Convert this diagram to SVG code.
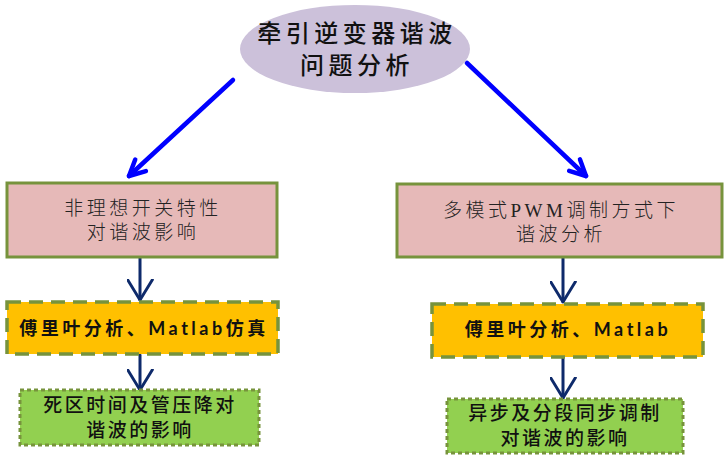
<svg xmlns="http://www.w3.org/2000/svg" width="728" height="461" viewBox="0 0 728 461">
<defs>
<style>
.title{font-family:"Noto Sans CJK SC",sans-serif;font-size:24px;font-weight:500;fill:#111;text-anchor:middle;letter-spacing:4.5px}
.pink{fill:#E6B9B8;stroke:#77933C;stroke-width:3}
.pinkt{font-family:"Liberation Serif","Noto Sans CJK SC",serif;font-size:19px;font-weight:300;fill:#222;text-anchor:middle;letter-spacing:3.5px}
.yel{fill:#FFC000;stroke:#77933C;stroke-width:3.5;stroke-dasharray:14 8}
.yelt{font-family:Lato,"Noto Sans CJK SC",sans-serif;font-size:18px;font-weight:700;fill:#111;text-anchor:middle;letter-spacing:3.5px}
.grn{fill:#92D050;stroke:#77933C;stroke-width:3;stroke-dasharray:4 3}
.grnt{font-family:"Noto Sans CJK SC",sans-serif;font-size:19px;font-weight:500;fill:#111;text-anchor:middle;letter-spacing:2.5px}
.blue{stroke:#0000FF;stroke-width:4.5;fill:none;stroke-linecap:round;stroke-linejoin:round}
.navy{stroke:#0E2A6B;stroke-width:3;fill:none;stroke-linecap:round;stroke-linejoin:round}
</style>
<marker id="ab" viewBox="0 0 20 20" refX="18" refY="10" markerWidth="5" markerHeight="5" markerUnits="strokeWidth" orient="auto">
<path d="M4,3 L18,10 L4,17" fill="none" stroke="#0000FF" stroke-width="4" stroke-linecap="round" stroke-linejoin="round"/>
</marker>
<marker id="an" viewBox="0 0 20 24" refX="19" refY="12" markerWidth="7.5" markerHeight="9" markerUnits="strokeWidth" orient="auto">
<path d="M1,1 L19,12 L1,23" fill="none" stroke="#0E2A6B" stroke-width="2.6" stroke-linecap="round" stroke-linejoin="round"/>
</marker>
</defs>
<g id="connectors">
<line class="blue" x1="233" y1="80" x2="129" y2="176" marker-end="url(#ab)"/>
<line class="blue" x1="467" y1="63" x2="586" y2="176" marker-end="url(#ab)"/>
<line class="navy" x1="140" y1="258" x2="140" y2="300" marker-end="url(#an)"/>
<line class="navy" x1="140" y1="355" x2="140" y2="390" marker-end="url(#an)"/>
<line class="navy" x1="563" y1="258" x2="563" y2="302" marker-end="url(#an)"/>
<line class="navy" x1="563" y1="358" x2="563" y2="398" marker-end="url(#an)"/>
</g>
<g id="root">
<ellipse cx="355" cy="49" rx="115" ry="44" fill="#CCC1DA"/>
<text class="title" x="357" y="42">牵引逆变器谐波</text>
<text class="title" x="357" y="74">问题分析</text>
</g>
<g id="left1">
<rect class="pink" x="7" y="183" width="270" height="74"/>
<text class="pinkt" x="143" y="215">非理想开关特性</text>
<text class="pinkt" x="143" y="239">对谐波影响</text>
</g>
<g id="right1">
<rect class="pink" x="397" y="184" width="325" height="73"/>
<text class="pinkt" x="561" y="217">多模式PWM调制方式下</text>
<text class="pinkt" x="561" y="241">谐波分析</text>
</g>
<g id="left2">
<rect class="yel" x="7" y="302" width="271" height="52"/>
<text class="yelt" x="144" y="335">傅里叶分析、Matlab仿真</text>
</g>
<g id="right2">
<rect class="yel" x="432" y="304" width="271" height="53"/>
<text class="yelt" x="568" y="336">傅里叶分析、Matlab</text>
</g>
<g id="left3">
<rect class="grn" x="20" y="390" width="239" height="55"/>
<text class="grnt" x="140" y="412">死区时间及管压降对</text>
<text class="grnt" x="140" y="437">谐波的影响</text>
</g>
<g id="right3">
<rect class="grn" x="447" y="399" width="236" height="54"/>
<text class="grnt" x="565" y="420">异步及分段同步调制</text>
<text class="grnt" x="565" y="445">对谐波的影响</text>
</g>
</svg>
